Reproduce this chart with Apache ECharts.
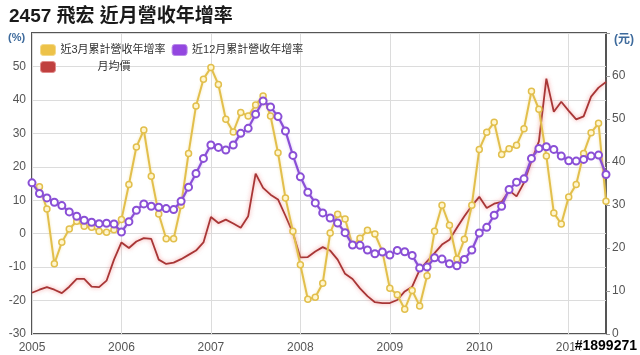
<!DOCTYPE html>
<html>
<head>
<meta charset="utf-8">
<script src="https://cdn.jsdelivr.net/npm/echarts@6/dist/echarts.min.js"></script>
<style>
html,body{margin:0;padding:0;background:#fff;}
#chart{width:640px;height:355px;}
</style>
</head>
<body>
<div id="chart"></div>
<script>
// ---- data (monthly, Jan 2005 .. Jun 2011) ----
const startYear = 2005;
const monthCount = 78;
const categories = [];
for (let i = 0; i < monthCount; i++) {
  const y = startYear + Math.floor(i / 12);
  const m = (i % 12) + 1;
  categories.push(y + '-' + (m < 10 ? '0' + m : m));
}
const yearTickLabels = ['2005', '2006', '2007', '2008', '2009', '2010', '2011'];

// 近3月累計營收年增率 (%)
const rev3m = [
  null, 14.0, 7.4, -9.0, -2.6, 1.4, 3.7, 2.2, 1.9, 0.7, 0.4, 1.2,
  4.2, 14.7, 25.9, 31.0, 17.2, 5.9, -1.5, -1.5, 8.4, 24.0, 38.2, 46.2,
  49.7, 44.6, 34.2, 30.4, 36.2, 35.2, 38.5, 41.2, 35.2, 24.2, 10.7, 0.7,
  -9.3, -19.6, -19.0, -14.8, 0.2, 5.8, 4.4, -3.5, -1.4, 1.0, -0.1, -5.3,
  -16.3, -18.3, -22.6, -17.0, -21.6, -12.6, 0.7, 8.5, 2.5, -7.6, -1.7, 8.5,
  25.2, 30.3, 33.3, 23.7, 25.4, 26.4, 31.4, 42.6, 37.2, 23.2, 6.2, 2.9,
  11.0, 14.7, 24.0, 30.2, 33.0, 9.7
];
// 近12月累計營收年增率 (%)
const rev12m = [
  15.2, 12.0, 10.7, 9.4, 8.4, 6.5, 5.2, 4.0, 3.4, 3.0, 3.1, 2.9,
  0.5, 3.6, 7.0, 8.9, 8.2, 7.9, 7.5, 7.2, 9.7, 13.9, 18.0, 22.5,
  26.5, 25.8, 25.0, 26.5, 30.0, 31.5, 35.7, 39.7, 37.9, 35.0, 30.7, 23.4,
  17.0, 12.4, 9.2, 6.2, 4.7, 3.2, 0.3, -3.4, -3.5, -4.9, -6.0, -5.5,
  -6.4, -5.0, -5.4, -6.5, -10.3, -10.0, -7.2, -7.6, -9.0, -9.6, -7.7, -4.9,
  0.2, 1.9, 5.5, 8.2, 13.2, 15.4, 16.4, 22.5, 25.5, 26.0, 25.2, 23.2,
  21.8, 21.7, 22.2, 23.2, 23.5, 17.7
];
// 月均價 (元)
const avgPrice = [
  9.6, 10.3, 10.9, 10.3, 9.5, 11.0, 12.8, 12.8, 11.0, 10.9, 12.4, 17.3,
  21.3, 20.0, 21.5, 22.3, 22.1, 17.3, 16.3, 16.6, 17.4, 18.4, 19.4, 21.3,
  27.2, 25.8, 26.6, 25.7, 24.7, 27.4, 37.3, 34.0, 32.4, 31.3, 27.5, 23.5,
  17.8, 17.9, 19.2, 20.2, 19.4, 17.3, 14.0, 12.8, 10.6, 8.8, 7.4, 7.2,
  7.2, 7.9, 9.9, 11.0, 14.9, 16.9, 18.8, 20.8, 21.9, 24.7, 27.4, 29.8,
  31.9, 29.3, 30.3, 30.7, 33.4, 32.0, 35.2, 40.2, 44.8, 59.4, 51.7, 54.0,
  51.9, 49.9, 50.6, 55.2, 57.3, 58.6
];

const FONT = '"Liberation Sans", Arial, "Noto Sans CJK TC", sans-serif';
const YELLOW = '#e2bf4c';
const PURPLE = '#8a4fd6';
const RED = '#a83636';

const chart = echarts.init(document.getElementById('chart'), null, {renderer: 'canvas'});
const yearIdx = (i) => i % 12 === 0;

chart.setOption({
  animation: false,
  backgroundColor: '#fff',
  textStyle: {fontFamily: FONT},
  title: {
    text: '2457 飛宏 近月營收年增率',
    left: 4, top: 2,
    textStyle: {fontFamily: FONT, fontSize: 19, fontWeight: 'bold', color: '#1a1a1a'}
  },
  grid: {left: 32, right: 34, top: 33, bottom: 21, show: true, borderColor: '#555', borderWidth: 2, backgroundColor: 'transparent'},
  legend: [
    {
      data: [
        {name: '近3月累計營收年增率', icon: 'roundRect', itemStyle: {color: '#edc249', borderColor: '#f3d98a', borderWidth: 1}},
        {name: '近12月累計營收年增率', icon: 'roundRect', itemStyle: {color: '#9347e0', borderColor: '#b98ae8', borderWidth: 1}}
      ],
      left: 40, top: 44, orient: 'horizontal', padding: 0,
      itemWidth: 15, itemHeight: 11, itemGap: 6,
      textStyle: {fontFamily: FONT, fontSize: 11, color: '#333'}
    },
    {
      data: [{name: '月均價', icon: 'roundRect', itemStyle: {color: '#c0403f', borderColor: '#e08a8a', borderWidth: 1}}],
      left: 40, top: 61, padding: 0,
      itemWidth: 15, itemHeight: 11,
      textStyle: {fontFamily: FONT, fontSize: 11, color: '#333', padding: [0, 0, 0, 37]}
    }
  ],
  xAxis: {
    type: 'category',
    data: categories,
    boundaryGap: false,
    axisLine: {show: false},
    axisTick: {show: false},
    axisLabel: {
      interval: (i) => yearIdx(i),
      formatter: (v, i) => yearTickLabels[Math.floor(i / 12)],
      color: '#555', fontSize: 12, fontFamily: FONT, margin: 8
    },
    splitLine: {show: true, interval: (i) => yearIdx(i), lineStyle: {color: '#dcdcdc', width: 1}}
  },
  yAxis: [
    {
      type: 'value', min: -30, max: 60, interval: 10,
      axisLine: {show: false}, axisTick: {show: false},
      axisLabel: {formatter: (v) => v === 60 ? '' : String(v), color: '#555', fontSize: 12, fontFamily: FONT, margin: 6},
      splitLine: {show: true, lineStyle: {color: '#dcdcdc', width: 1}}
    },
    {
      type: 'value', min: 0, max: 70, interval: 10, position: 'right',
      axisLine: {show: false},
      axisTick: {show: true, length: 4, lineStyle: {color: '#999'}},
      axisLabel: {formatter: (v) => v === 70 ? '' : String(v), color: '#555', fontSize: 12, fontFamily: FONT, margin: 6},
      splitLine: {show: false}
    }
  ],
  series: [
    {
      name: '月均價', type: 'line', yAxisIndex: 1, data: avgPrice,
      showSymbol: false, symbol: 'none',
      lineStyle: {color: RED, width: 1.8, shadowColor: 'rgba(240,110,110,0.7)', shadowBlur: 4},
      itemStyle: {color: '#c0403f'}, z: 2
    },
    {
      name: '近3月累計營收年增率', type: 'line', yAxisIndex: 0, data: rev3m,
      symbol: 'circle', symbolSize: 6, showAllSymbol: true,
      lineStyle: {color: YELLOW, width: 2, shadowColor: 'rgba(240,215,130,0.6)', shadowBlur: 3},
      itemStyle: {color: '#fff6cf', borderColor: YELLOW, borderWidth: 1.5},
      z: 3
    },
    {
      name: '近12月累計營收年增率', type: 'line', yAxisIndex: 0, data: rev12m,
      symbol: 'circle', symbolSize: 7, showAllSymbol: true,
      lineStyle: {color: PURPLE, width: 2.2, shadowColor: 'rgba(190,150,240,0.6)', shadowBlur: 3},
      itemStyle: {color: '#ffffff', borderColor: PURPLE, borderWidth: 2},
      z: 4
    }
  ],
  graphic: [
    {type: 'text', left: 8, top: 32, style: {text: '(%)', fill: '#3d6a9c', font: 'bold 11px ' + FONT}},
    {type: 'text', left: 614, top: 34, style: {text: '(元)', fill: '#3d6a9c', font: 'bold 12px ' + FONT}},
    {type: 'text', right: 2, bottom: 1, z: 100, style: {text: '#1899271', fill: '#000', stroke: '#fff', lineWidth: 2, font: 'bold 14px ' + FONT}}
  ]
});
</script>
</body>
</html>
